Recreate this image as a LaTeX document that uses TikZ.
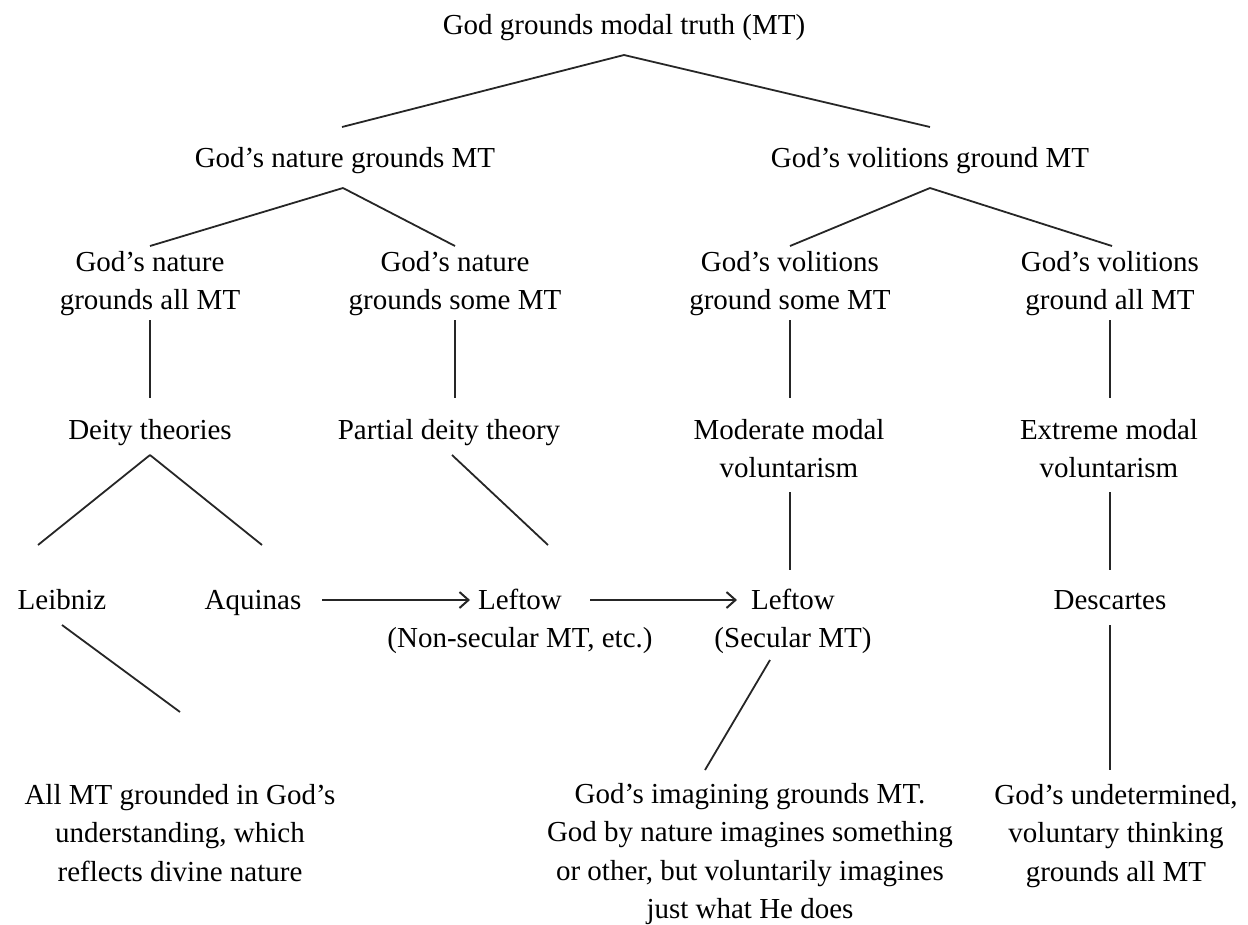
\documentclass[tikz,border=0pt]{standalone}
\usepackage{fontspec}
\setmainfont{Liberation Serif}
\usetikzlibrary{arrows.meta}
\begin{document}
\begin{tikzpicture}[x=1pt,y=-1pt,
  lbl/.style={font=\fontsize{29}{38.5}\selectfont, align=center, inner sep=0pt, anchor=base},
  edge/.style={line width=1.8pt, draw=black!85},
  arr/.style={edge, -{Straight Barb[length=9pt,width=16pt,line width=2pt]}}]
\useasboundingbox (0,0) rectangle (1248,924);
% row 1
\node[lbl] (top) at (624,34) {God grounds modal truth (MT)};
% row 2
\node[lbl] (nat) at (345,167) {God’s nature grounds MT};
\node[lbl] (vol) at (930,167) {God’s volitions ground MT};
% row 3 (base = last line)
\node[lbl] (natall) at (150,309.5) {God’s nature\\grounds all MT};
\node[lbl] (natsome) at (455,309.5) {God’s nature\\grounds some MT};
\node[lbl] (volsome) at (790,309.5) {God’s volitions\\ground some MT};
\node[lbl] (volall) at (1110,309.5) {God’s volitions\\ground all MT};
% row 4
\node[lbl] (deity) at (150,439) {Deity theories};
\node[lbl] (partial) at (449,439) {Partial deity theory};
\node[lbl] (moderate) at (789,477.5) {Moderate modal\\voluntarism};
\node[lbl] (extreme) at (1109,477.5) {Extreme modal\\voluntarism};
% row 5
\node[lbl] (leibniz) at (62,609) {Leibniz};
\node[lbl] (aquinas) at (253,609) {Aquinas};
\node[lbl] (leftowa) at (520,647.5) {Leftow\\(Non-secular MT, etc.)};
\node[lbl] (leftowb) at (793,647.5) {Leftow\\(Secular MT)};
\node[lbl] (descartes) at (1110,609) {Descartes};
% row 6
\node[lbl] (understanding) at (180,881) {All MT grounded in God’s\\understanding, which\\reflects divine nature};
\node[lbl] (imagining) at (750,918.5) {God’s imagining grounds MT.\\God by nature imagines something\\or other, but voluntarily imagines\\just what He does};
\node[lbl] (undetermined) at (1116,881) {God’s undetermined,\\voluntary thinking\\grounds all MT};
% connectors
\draw[edge] ([shift={(0,21)}]top.base) -- ([shift={(-3,-40)}]nat.base);
\draw[edge] ([shift={(0,21)}]top.base) -- ([shift={(0,-40)}]vol.base);
\draw[edge] ([shift={(-2,21)}]nat.base) -- ([shift={(0,-63.5)}]natall.base);
\draw[edge] ([shift={(-2,21)}]nat.base) -- ([shift={(0,-63.5)}]natsome.base);
\draw[edge] ([shift={(0,21)}]vol.base) -- ([shift={(0,-63.5)}]volsome.base);
\draw[edge] ([shift={(0,21)}]vol.base) -- ([shift={(2,-63.5)}]volall.base);
\draw[edge] ([shift={(0,10.5)}]natall.base) -- ([shift={(0,-41)}]deity.base);
\draw[edge] ([shift={(0,10.5)}]natsome.base) -- ([shift={(6,-41)}]partial.base);
\draw[edge] ([shift={(0,10.5)}]volsome.base) -- ([shift={(1,-79.5)}]moderate.base);
\draw[edge] ([shift={(0,10.5)}]volall.base) -- ([shift={(1,-79.5)}]extreme.base);
\draw[edge] ([shift={(0,16)}]deity.base) -- ([shift={(-24,-64)}]leibniz.base);
\draw[edge] ([shift={(0,16)}]deity.base) -- ([shift={(9,-64)}]aquinas.base);
\draw[edge] ([shift={(3,16)}]partial.base) -- ([shift={(28,-102.5)}]leftowa.base);
\draw[edge] ([shift={(1,14.5)}]moderate.base) -- ([shift={(-3,-77.5)}]leftowb.base);
\draw[edge] ([shift={(1,14.5)}]extreme.base) -- ([shift={(0,-39)}]descartes.base);
\draw[arr] ([shift={(69,-9)}]aquinas.base) -- ([shift={(-50,-47.5)}]leftowa.base);
\draw[arr] ([shift={(70,-47.5)}]leftowa.base) -- ([shift={(-56,-47.5)}]leftowb.base);
\draw[edge] ([shift={(0,16)}]leibniz.base) -- ([shift={(0,-169)}]understanding.base);
\draw[edge] ([shift={(-23,12.5)}]leftowb.base) -- ([shift={(-45,-148.5)}]imagining.base);
\draw[edge] ([shift={(0,16)}]descartes.base) -- ([shift={(-6,-111)}]undetermined.base);
\end{tikzpicture}
\end{document}
